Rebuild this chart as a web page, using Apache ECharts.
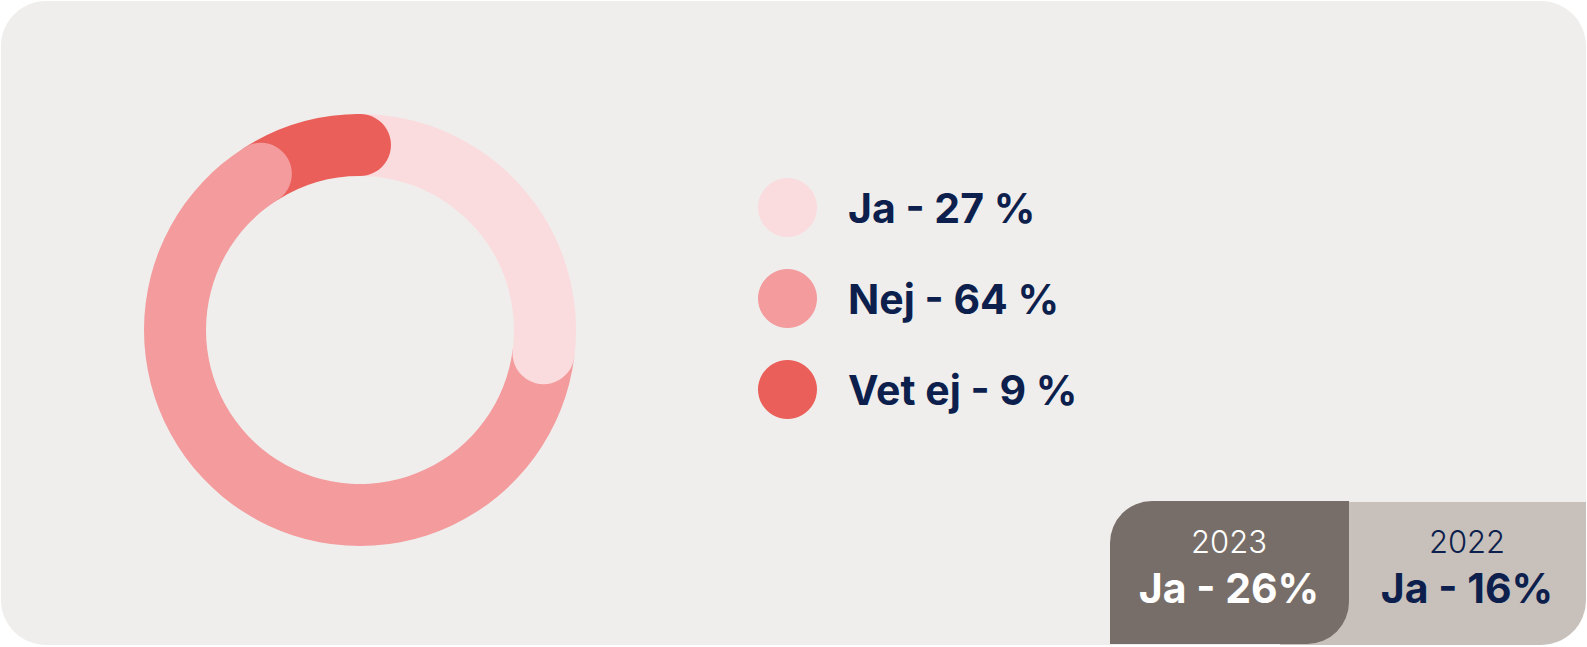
<!DOCTYPE html>
<html>
<head>
<meta charset="utf-8">
<script src="https://cdn.jsdelivr.net/npm/echarts@6/dist/echarts.min.js"></script>
<style>
	html, body { margin: 0; padding: 0; background: #ffffff; }
	#chart { width: 1587px; height: 647px; }
</style>
</head>
<body>
<div id="chart"></div>
<script>
const categories = ["Ja", "Nej", "Vet ej"];
const shares = [27, 64, 9];
const colors = ["#FADCDE", "#F39B9D", "#EA5F5A"];
const compareYears = ["2023", "2022"];
const compareShares = [26, 16];

const total = shares.reduce((a, b) => a + b, 0);
const navy = "#0D1F4D";

// flat ring segments, stacked around the angle axis
let ringSeries = categories.map(function (name, i) {
	return {
		name: name,
		type: "bar",
		coordinateSystem: "polar",
		stack: "ring",
		barWidth: 62,
		data: [shares[i]],
		z: 2,
		silent: true,
		emphasis: { disabled: true },
		itemStyle: { color: colors[i] },
	};
});

// round end of every segment, laid over the start of the next one
let ends = [];
let run = 0;
shares.forEach(function (v, i) {
	run += v;
	ends.push({ value: [0, run], itemStyle: { color: colors[i] } });
});
ringSeries.push({
	name: "ends",
	type: "scatter",
	coordinateSystem: "polar",
	symbol: "circle",
	symbolSize: 62,
	data: ends,
	z: 5,
	silent: true,
	emphasis: { disabled: true },
	itemStyle: { opacity: 1 },
});

let chart = echarts.init(document.getElementById("chart"), null, { renderer: "svg" });
chart.setOption({
	animation: false,
	polar: {
		center: [360, 330],
		radius: [154, 216],
	},
	angleAxis: {
		type: "value",
		min: 0,
		max: total,
		startAngle: 90,
		clockwise: true,
		show: false,
	},
	radiusAxis: {
		type: "category",
		data: ["svar"],
		show: false,
	},
	legend: {
		orient: "vertical",
		left: 758,
		top: 178,
		padding: 0,
		icon: "circle",
		itemWidth: 59,
		itemHeight: 59,
		itemGap: 32,
		selectedMode: false,
		data: categories,
		formatter: function (name) {
			return name + " - " + shares[categories.indexOf(name)] + " %";
		},
		textStyle: {
			fontFamily: "Inter",
			fontWeight: "bold",
			fontSize: 41,
			color: navy,
			padding: [0, 0, 0, 26],
		},
	},
	graphic: [
		{
			type: "rect",
			z: -10,
			shape: { x: 1, y: 1, width: 1585, height: 644, r: 45 },
			style: { fill: "#F0EEEC" },
		},
		{
			type: "rect",
			z: -9,
			shape: { x: 1280, y: 502, width: 306, height: 143, r: [0, 0, 45, 0] },
			style: { fill: "#C8C1BB" },
		},
		{
			type: "rect",
			z: -8,
			shape: { x: 1110, y: 501, width: 239, height: 143, r: [42, 0, 42, 0] },
			style: { fill: "#786E69" },
		},
		{
			type: "text",
			z: -7,
			x: 1229,
			y: 541,
			style: {
				text: compareYears[0],
				align: "center",
				verticalAlign: "middle",
				fontFamily: "Inter",
				fontWeight: 300,
				fontSize: 31,
				fill: "#ffffff",
			},
		},
		{
			type: "text",
			z: -7,
			x: 1229,
			y: 588,
			style: {
				text: "Ja - " + compareShares[0] + "%",
				align: "center",
				verticalAlign: "middle",
				fontFamily: "Inter",
				fontWeight: "bold",
				fontSize: 41,
				fill: "#ffffff",
			},
		},
		{
			type: "text",
			z: -7,
			x: 1467,
			y: 541,
			style: {
				text: compareYears[1],
				align: "center",
				verticalAlign: "middle",
				fontFamily: "Inter",
				fontWeight: 300,
				fontSize: 31,
				fill: navy,
			},
		},
		{
			type: "text",
			z: -7,
			x: 1467,
			y: 588,
			style: {
				text: "Ja - " + compareShares[1] + "%",
				align: "center",
				verticalAlign: "middle",
				fontFamily: "Inter",
				fontWeight: "bold",
				fontSize: 41,
				fill: navy,
			},
		},
	],
	series: ringSeries,
});
</script>
</body>
</html>
